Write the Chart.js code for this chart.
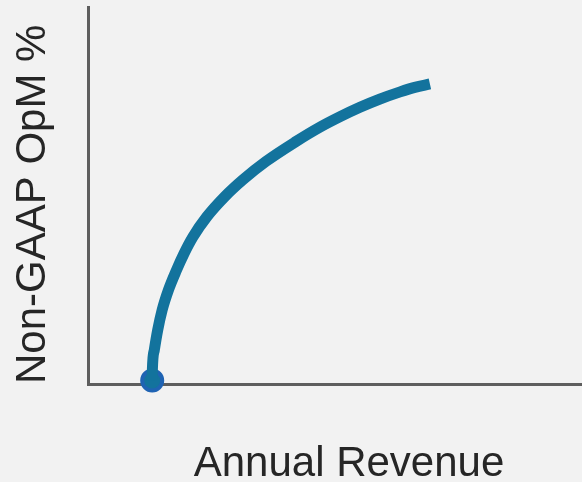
<!DOCTYPE html>
<html>
<head>
<meta charset="utf-8">
<script src="https://cdn.jsdelivr.net/npm/chart.js@4/dist/chart.umd.min.js"></script>
<style>
    html, body { margin: 0; padding: 0; background: #f2f2f2; overflow: hidden; }
    #marginChart { display: block; }
</style>
</head>
<body>
<canvas id="marginChart" width="610" height="490"></canvas>
<script>
// Margin curve: operating margin rising with revenue, flattening out
const revenue = [12.3, 12.33, 12.7, 13.35, 14.2, 15.4, 16.95, 18.4, 20.1, 22.8, 26.25, 29.7, 34.1, 39.7, 44.4, 48.3, 52.1, 55.9, 59.8, 62.6, 65.5];
const opMargin = [0.9, 3.7, 9.0, 14.3, 19.6, 24.9, 30.2, 34.62, 39.03, 44.43, 49.79, 54.22, 59.05, 64.19, 68.1, 70.92, 73.41, 75.58, 77.49, 78.69, 79.6];
// Starting point marker
const startRevenue = [12.3];
const startMargin = [0.9];

const axisFont = { family: "'Liberation Sans', Arial, sans-serif", size: 42 };

document.addEventListener('DOMContentLoaded', () => {
    const ctx = document.getElementById('marginChart').getContext('2d');
    new Chart(ctx, {
        type: 'scatter',
        data: {
            datasets: [{
                label: 'OpM curve',
                data: revenue.map((r, i) => ({ x: r, y: opMargin[i] })),
                showLine: true,
                borderColor: '#13739d',
                borderWidth: 11,
                pointRadius: 0,
                cubicInterpolationMode: 'monotone',
                clip: false,
                order: 1
            }, {
                label: 'Start',
                data: startRevenue.map((r, i) => ({ x: r, y: startMargin[i] })),
                backgroundColor: '#13739d',
                borderColor: '#1f63b3',
                borderWidth: 4,
                pointRadius: 10,
                clip: false,
                order: 2
            }]
        },
        options: {
            responsive: false,
            animation: false,
            layout: { autoPadding: false, padding: { top: 7, left: 0, right: 0, bottom: 0 } },
            plugins: {
                legend: { display: false },
                tooltip: { enabled: false }
            },
            scales: {
                x: {
                    min: 0,
                    max: 100,
                    z: 1,
                    ticks: { display: false },
                    grid: { display: false, drawTicks: false },
                    border: { display: true, color: '#5e5e5e', width: 3 },
                    title: {
                        display: true,
                        text: 'Annual Revenue',
                        color: '#262626',
                        font: axisFont,
                        padding: { top: 55.6, bottom: 0 }
                    }
                },
                y: {
                    min: 0,
                    max: 100,
                    ticks: { display: false },
                    grid: { display: false, drawTicks: false },
                    border: { display: true, color: '#5e5e5e', width: 3 },
                    title: {
                        display: true,
                        text: 'Non-GAAP OpM %',
                        align: 'start',
                        color: '#262626',
                        font: axisFont,
                        padding: { top: 8, bottom: 29.6 }
                    }
                }
            }
        }
    });
});
</script>
</body>
</html>
